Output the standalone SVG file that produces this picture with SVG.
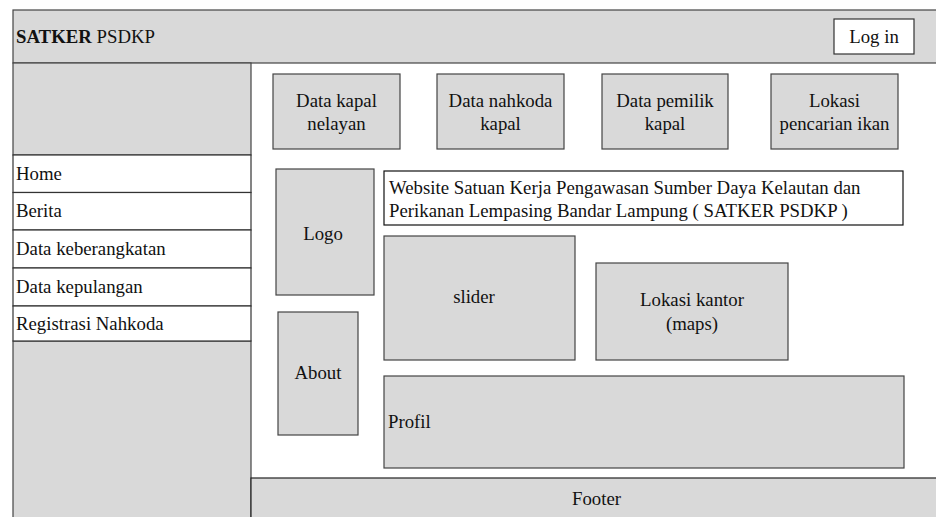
<svg xmlns="http://www.w3.org/2000/svg" width="936" height="517" viewBox="0 0 936 517">
<style>
text{font-family:"Liberation Serif","Times New Roman",serif;font-size:18.8px;fill:#111}
.g{fill:#d9d9d9;stroke:#444;stroke-width:1.2}
.w{fill:#fff;stroke:#333;stroke-width:1.2}
.c{text-anchor:middle}
</style>
<rect width="936" height="517" fill="#fff"/>
<g id="header">
<rect class="g" x="13" y="10" width="925" height="53"/>
<text x="16" y="43"><tspan font-weight="bold">SATKER</tspan> PSDKP</text>
</g>
<g id="login">
<rect class="w" x="834" y="19" width="80" height="35"/>
<text class="c" x="874" y="43">Log in</text>
</g>
<g id="sidebar">
<rect class="g" x="13" y="63" width="238" height="92"/>
<rect class="g" x="13" y="341" width="238" height="180"/>
</g>
<g id="menu-home"><rect class="w" x="13" y="155" width="238" height="37.5"/><text x="16" y="180">Home</text></g>
<g id="menu-berita"><rect class="w" x="13" y="192.5" width="238" height="37.5"/><text x="16" y="217">Berita</text></g>
<g id="menu-berangkat"><rect class="w" x="13" y="230" width="238" height="38"/><text x="16" y="255">Data keberangkatan</text></g>
<g id="menu-pulang"><rect class="w" x="13" y="268" width="238" height="38"/><text x="16" y="293">Data kepulangan</text></g>
<g id="menu-registrasi"><rect class="w" x="13" y="306" width="238" height="35"/><text x="16" y="330">Registrasi Nahkoda</text></g>
<g id="footer">
<rect class="g" x="251" y="478" width="690" height="45" style="stroke:#222"/>
<text x="572" y="505">Footer</text>
</g>
<g id="data-kapal"><rect class="g" x="273" y="74" width="127" height="75"/><text class="c" x="336.5" y="107">Data kapal</text><text class="c" x="336.5" y="130">nelayan</text></g>
<g id="data-nahkoda"><rect class="g" x="437" y="74" width="127" height="75"/><text class="c" x="500.5" y="107">Data nahkoda</text><text class="c" x="500.5" y="130">kapal</text></g>
<g id="data-pemilik"><rect class="g" x="602" y="74" width="126" height="75"/><text class="c" x="665" y="107">Data pemilik</text><text class="c" x="665" y="130">kapal</text></g>
<g id="lokasi-ikan"><rect class="g" x="771" y="74" width="127" height="75"/><text class="c" x="834.5" y="107">Lokasi</text><text class="c" x="834.5" y="130">pencarian ikan</text></g>
<g id="logo"><rect class="g" x="276" y="169" width="98" height="126"/><text class="c" x="323" y="240">Logo</text></g>
<g id="title"><rect class="w" x="384" y="171" width="519" height="54" style="stroke:#111"/><text x="389" y="194">Website Satuan Kerja Pengawasan Sumber Daya Kelautan dan</text><text x="389" y="217">Perikanan Lempasing Bandar Lampung ( SATKER PSDKP )</text></g>
<g id="slider"><rect class="g" x="384" y="236" width="191" height="124"/><text class="c" x="474" y="303">slider</text></g>
<g id="lokasi-kantor"><rect class="g" x="596" y="263" width="192" height="97"/><text class="c" x="692" y="306">Lokasi kantor</text><text class="c" x="692" y="330">(maps)</text></g>
<g id="about"><rect class="g" x="278" y="312" width="80" height="123"/><text class="c" x="318" y="379">About</text></g>
<g id="profil"><rect class="g" x="384" y="376" width="520" height="92"/><text x="388" y="428">Profil</text></g>
</svg>
